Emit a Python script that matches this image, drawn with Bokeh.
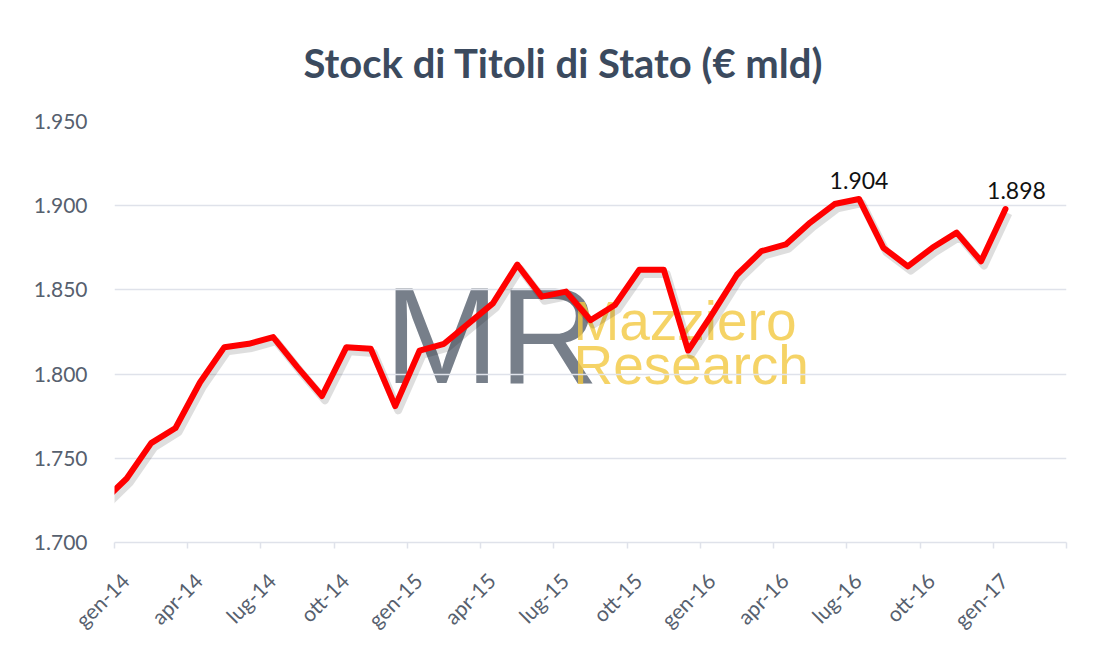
from bokeh.plotting import figure
from bokeh.models import ColumnDataSource, FixedTicker, Title, LinearAxis
from bokeh.core.properties import value
from bokeh.transform import dodge
from bokeh.embed import file_html
from bokeh.resources import INLINE

# ---------------- data ----------------
months = ["dic-13",
          "gen-14", "feb-14", "mar-14", "apr-14", "mag-14", "giu-14",
          "lug-14", "ago-14", "set-14", "ott-14", "nov-14", "dic-14",
          "gen-15", "feb-15", "mar-15", "apr-15", "mag-15", "giu-15",
          "lug-15", "ago-15", "set-15", "ott-15", "nov-15", "dic-15",
          "gen-16", "feb-16", "mar-16", "apr-16", "mag-16", "giu-16",
          "lug-16", "ago-16", "set-16", "ott-16", "nov-16", "dic-16",
          "gen-17"]
stock = [1724,
         1738, 1759, 1768, 1795, 1816, 1818,
         1822, 1804, 1787, 1816, 1815, 1781,
         1814, 1818, 1830, 1842, 1865, 1846,
         1849, 1832, 1841, 1862, 1862, 1814,
         1836, 1859, 1873, 1877, 1890, 1901,
         1904, 1875, 1864, 1875, 1884, 1867,
         1898]
x_tick_labels = ["gen-14", "apr-14", "lug-14", "ott-14",
                 "gen-15", "apr-15", "lug-15", "ott-15",
                 "gen-16", "apr-16", "lug-16", "ott-16",
                 "gen-17", ""]
y_ticks = [1700, 1750, 1800, 1850, 1900, 1950]
title_text = "Stock di Titoli di Stato (€ mld)"


def it_fmt(v):
    return f"{v:,}".replace(",", ".")


# month position: index relative to gen-14, plotted at mid-month
xpos = [i - 1 + 0.5 for i in range(len(months))]
src = ColumnDataSource(dict(x=xpos, y=stock, m=months))

# labelled points: the peak and the last value
peak_i = stock.index(max(stock))
last_i = len(stock) - 1
lab_src = ColumnDataSource(dict(
    x=[xpos[peak_i], xpos[last_i]],
    y=[stock[peak_i], stock[last_i]],
    t=[it_fmt(stock[peak_i]), it_fmt(stock[last_i])],
    xo=[0, 11],
))

n_ticks = len(x_tick_labels)
tick_pos = [3 * k for k in range(n_ticks)]
label_shift = 0.4375
label_pos = [tp + label_shift for tp in tick_pos]

p = figure(frame_width=952, frame_height=421,
           output_backend="svg", toolbar_location=None,
           x_range=(0, tick_pos[-1]), y_range=(y_ticks[0], y_ticks[-1]),
           min_border_left=114, min_border_right=34,
           min_border_top=121, min_border_bottom=80)
p.outline_line_color = None
p.background_fill_color = "white"
p.border_fill_color = "white"

# title
t = Title(text=title_text, align="left", text_font="Lato",
          text_font_size="40px", text_font_style="bold", text_color="#3b4a5e",
          offset=189, standoff=70)
p.add_layout(t, "above")

# grid
p.xgrid.grid_line_color = None
p.ygrid.grid_line_color = "#dfe2ea"
p.ygrid.grid_line_width = 1.5
p.ygrid.ticker = FixedTicker(ticks=y_ticks)

# y axis
p.yaxis.ticker = FixedTicker(ticks=y_ticks)
p.yaxis.major_label_overrides = {v: it_fmt(v) for v in y_ticks}
p.yaxis.axis_line_color = None
p.yaxis.major_tick_line_color = None
p.yaxis.minor_tick_line_color = None
p.yaxis.major_label_standoff = 21
p.yaxis.major_label_text_font = "Lato"
p.yaxis.major_label_text_font_size = "21px"
p.yaxis.major_label_text_color = "#56606e"

# x axis: line + tick marks only
p.xaxis.ticker = FixedTicker(ticks=tick_pos)
p.xaxis.major_label_overrides = {tp: "" for tp in tick_pos}
p.xaxis.axis_line_color = "#dfe2ea"
p.xaxis.axis_line_width = 1.5
p.xaxis.major_tick_line_color = "#dfe2ea"
p.xaxis.major_tick_line_width = 1.5
p.xaxis.major_tick_out = 6
p.xaxis.major_tick_in = 0
p.xaxis.minor_tick_line_color = None
p.xaxis.major_label_standoff = 0
p.xaxis.major_label_text_font_size = "1px"

# x axis: rotated month labels
lab_axis = LinearAxis(ticker=FixedTicker(ticks=label_pos),
                      major_label_overrides={lp: lab for lp, lab in zip(label_pos, x_tick_labels)},
                      axis_line_color=None, major_tick_line_color=None,
                      minor_tick_line_color=None,
                      major_label_orientation=0.785,
                      major_label_standoff=22,
                      major_label_text_font="Lato",
                      major_label_text_font_size="21px",
                      major_label_text_color="#56606e")
p.add_layout(lab_axis, "below")

# watermark
p.text(x=[11.05], y=[1823.5], text=["MR"],
       text_font=value("Liberation Sans"),
       text_font_size="138px", text_color="#5f6975", text_alpha=0.85,
       text_baseline="alphabetic", level="underlay")
p.text(x=[18.8], y=[1831.5], text=["Mazziero"], text_font=value("Liberation Sans"),
       text_font_size="55px", text_color="#f2c840", text_alpha=0.8,
       text_baseline="alphabetic", level="underlay")
p.text(x=[18.8], y=[1805.3], text=["Research"], text_font=value("Liberation Sans"),
       text_font_size="55px", text_color="#f2c840", text_alpha=0.8,
       text_baseline="alphabetic", level="underlay")

# shadow + line
p.line(x=dodge("x", 0.12, range=p.x_range), y=dodge("y", -2.5, range=p.y_range),
       source=src, line_color="#000000", line_alpha=0.13, line_width=8,
       line_join="round")
p.line(x="x", y="y", source=src, line_color="#ff0000", line_width=6,
       line_join="round", line_cap="round")

# data labels
p.text(x="x", y="y", text="t", x_offset="xo", y_offset=-10, source=lab_src,
       text_align="center", text_baseline="bottom",
       text_font=value("Lato"), text_font_size="23px", text_color="#111111")

open("out.html", "w").write(file_html(p, INLINE))
